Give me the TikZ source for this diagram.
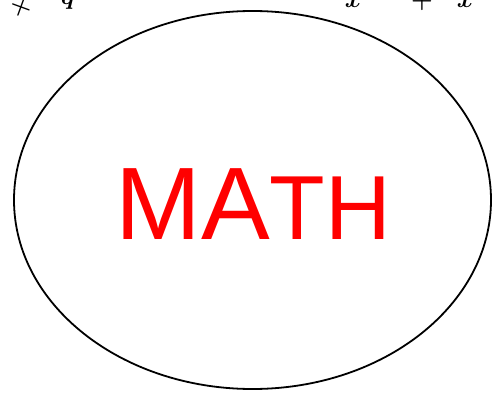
\documentclass[tikz,border=0pt]{standalone}
\usepackage{fontspec}
\usepackage{bm}
\usetikzlibrary{shapes.geometric}
\newfontfamily\arialfont{Liberation Sans}
\begin{document}
\begin{tikzpicture}[x=1pt,y=1pt,
  frag/.style={inner sep=0pt,font=\fontsize{30}{30}\selectfont},
  bigtitle/.style={inner sep=0pt,text=red,anchor=base west}]
\useasboundingbox (0,0) rectangle (500,397);
\fill[white] (0,0) rectangle (500,397);
% clipped fragments at the top edge
\node[frag,rotate=-20,anchor=center] (p1) at (21,390) {$\bm{+}$};
\node[frag,anchor=base] (q1) at (68,392) {$\bm{q}$};
\node[frag,anchor=base] (x1) at (353,389) {$\bm{x}$};
\node[frag,anchor=base] (p2) at (422,389) {$\bm{+}$};
\node[frag,anchor=base] (x2) at (465,389) {$\bm{x}$};
% ellipse
\node[draw,line width=1.8pt,ellipse,minimum width=477pt,minimum height=378pt,inner sep=0pt] (e) at (252.5,197) {};
\node[bigtitle] (t) at (115,158) {\arialfont\fontsize{103}{103}\selectfont MA\fontsize{91}{91}\selectfont TH};
\end{tikzpicture}
\end{document}
